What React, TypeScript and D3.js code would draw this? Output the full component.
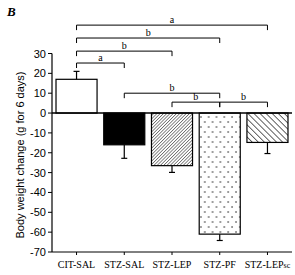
import React from "react";
import * as d3 from "d3";

const categories = ["CIT-SAL", "STZ-SAL", "STZ-LEP", "STZ-PF", "STZ-LEPsc"];
const values = [17, -16, -26.5, -61, -14.8];
const errors = [4, 6.8, 3.4, 3.2, 5.6];
const yTicks = [30, 20, 10, 0, -10, -20, -30, -40, -50, -60, -70];
// brackets: [fromIndex, toIndex, level (g), label]
const brackets: [number, number, number, string][] = [
  [0, 4, 44.3, "a"],
  [0, 3, 37.8, "b"],
  [0, 2, 31.2, "b"],
  [0, 1, 25.2, "a"],
  [1, 3, 10, "b"],
  [2, 3, 5.5, "b"],
  [3, 4, 5.5, "b"],
];

export default function App() {
  const W = 295, H = 275;
  const x = d3.scaleBand<string>().domain(categories).range([52, 292]).paddingInner(0.14).paddingOuter(0.084);
  const y = d3.scaleLinear().domain([-70, 30]).range([252, 53.5]);
  const fills = ["#fff", "#000", "url(#hatchA)", "url(#dots)", "url(#hatchB)"];
  const cx = (i: number) => (x(categories[i]) as number) + x.bandwidth() / 2;
  return (
    <svg width={W} height={H} style={{ position: "absolute", left: 0, top: 0, background: "#fff" }}>
      <defs>
        <pattern id="hatchA" width="2.3" height="2.3" patternUnits="userSpaceOnUse" patternTransform="rotate(45)">
          <rect width="2.3" height="2.3" fill="#fff" />
          <line x1="0" y1="0" x2="0" y2="2.3" stroke="#000" strokeWidth="0.9" />
        </pattern>
        <pattern id="hatchB" width="4.3" height="4.3" patternUnits="userSpaceOnUse" patternTransform="rotate(-45)">
          <rect width="4.3" height="4.3" fill="#fff" />
          <line x1="0" y1="0" x2="0" y2="4.3" stroke="#000" strokeWidth="1.2" />
        </pattern>
        <pattern id="dots" width="7.8" height="10" patternUnits="userSpaceOnUse">
          <rect width="7.8" height="10" fill="#fff" />
          <circle cx="2" cy="2" r="0.7" fill="#000" />
          <circle cx="5.9" cy="7" r="0.7" fill="#000" />
        </pattern>
      </defs>
      <text x={7} y={16} fontFamily="Liberation Serif" fontWeight="bold" fontStyle="italic" fontSize={13}>B</text>
      {/* y axis */}
      <line x1={52} x2={52} y1={y(30)} y2={y(-70)} stroke="#000" strokeWidth={1.2} />
      {yTicks.map((t) => (
        <g key={t}>
          <line x1={48} x2={52} y1={y(t)} y2={y(t)} stroke="#000" strokeWidth={1} />
          <text x={46} y={y(t) + 4} textAnchor="end" fontFamily="Liberation Sans" fontSize={11}>{t}</text>
        </g>
      ))}
      <text transform={`translate(24,155) rotate(-90)`} textAnchor="middle" fontFamily="Liberation Sans" fontSize={11}>Body weight change (g for 6 days)</text>
      {/* x axis */}
      <line x1={52} x2={292} y1={y(-70)} y2={y(-70)} stroke="#000" strokeWidth={1} />
      {categories.map((c, i) => (
        <line key={c} x1={cx(i)} x2={cx(i)} y1={y(-70)} y2={y(-70) + 3} stroke="#000" />
      ))}
      {categories.map((c, i) => (
        <text key={c} x={cx(i)} y={268} textAnchor="middle" fontFamily="Liberation Serif" fontSize={10}>
          {c === "STZ-LEPsc" ? (<>STZ-LEP<tspan fontSize={8}>sc</tspan></>) : c}
        </text>
      ))}
      {/* bars */}
      {values.map((v, i) => (
        <rect key={i} x={x(categories[i])} width={x.bandwidth()} y={y(Math.max(0, v))} height={Math.abs(y(v) - y(0))}
          fill={fills[i]} stroke="#000" strokeWidth={1.2} />
      ))}
      {/* error bars */}
      {values.map((v, i) => {
        const e = v >= 0 ? v + errors[i] : v - errors[i];
        return (
          <g key={i} stroke="#000" strokeWidth={1.2}>
            <line x1={cx(i)} x2={cx(i)} y1={y(v)} y2={y(e)} />
            <line x1={cx(i) - 3} x2={cx(i) + 3} y1={y(e)} y2={y(e)} />
          </g>
        );
      })}
      {/* zero line */}
      <line x1={52} x2={292} y1={y(0)} y2={y(0)} stroke="#000" strokeWidth={1.4} />
      {/* brackets */}
      {brackets.map(([a, b, lv, lab], k) => {
        const yy = y(lv);
        const x1 = cx(a), x2 = cx(b);
        return (
          <g key={k}>
            <path d={`M${x1},${yy + 5}V${yy}H${x2}V${yy + 5}`} fill="none" stroke="#000" strokeWidth={1} />
            <text x={(x1 + x2) / 2} y={yy - 2} textAnchor="middle" fontFamily="Liberation Serif" fontSize={10}>{lab}</text>
          </g>
        );
      })}
    </svg>
  );
}
